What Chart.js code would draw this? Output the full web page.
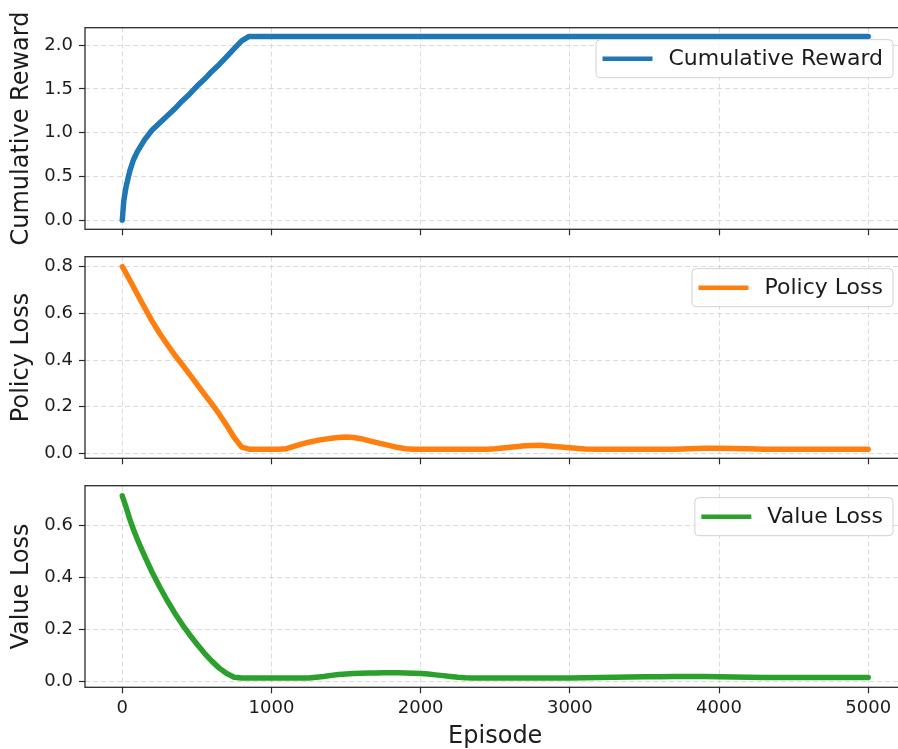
<!DOCTYPE html>
<html>
<head>
<meta charset="utf-8">
<script src="https://cdn.jsdelivr.net/npm/chart.js@4.4.1/dist/chart.umd.min.js"></script>
<style>
  html, body { margin: 0; padding: 0; background: #fff; overflow: hidden; width: 898px; height: 749px; }
  .panel { position: absolute; left: 0; top: 0; width: 910px; height: 749px; }
</style>
</head>
<body>
<canvas id="rewardPanel" class="panel" width="910" height="749"></canvas>
<canvas id="policyPanel" class="panel" width="910" height="749"></canvas>
<canvas id="valuePanel" class="panel" width="910" height="749"></canvas>
<script>
// Training curves sampled along the episode axis
const episodes = [
  0, 10, 25, 50, 75, 100, 150, 200, 250, 300, 350, 400, 450, 500, 550, 600, 650, 700, 750, 800,
  850, 900, 950, 1000, 1050, 1100, 1150, 1200, 1250, 1300, 1350, 1400, 1450, 1500, 1550, 1600, 1650, 1700, 1750, 1800,
  1850, 1900, 1950, 2000, 2050, 2100, 2150, 2200, 2250, 2300, 2350, 2400, 2450, 2500, 2600, 2700, 2800, 2900, 3000, 3100,
  3200, 3300, 3400, 3500, 3600, 3700, 3800, 3900, 4000, 4100, 4200, 4300, 4400, 4500, 4600, 4700, 4800, 4900, 5000
];

const cumulativeReward = [
  0.00, 0.22, 0.38, 0.56, 0.69, 0.78, 0.92, 1.03, 1.11, 1.19, 1.27, 1.36, 1.44, 1.53, 1.61, 1.70, 1.78, 1.87, 1.96, 2.05,
  2.10, 2.10, 2.10, 2.10, 2.10, 2.10, 2.10, 2.10, 2.10, 2.10, 2.10, 2.10, 2.10, 2.10, 2.10, 2.10, 2.10, 2.10, 2.10, 2.10,
  2.10, 2.10, 2.10, 2.10, 2.10, 2.10, 2.10, 2.10, 2.10, 2.10, 2.10, 2.10, 2.10, 2.10, 2.10, 2.10, 2.10, 2.10, 2.10, 2.10,
  2.10, 2.10, 2.10, 2.10, 2.10, 2.10, 2.10, 2.10, 2.10, 2.10, 2.10, 2.10, 2.10, 2.10, 2.10, 2.10, 2.10, 2.10, 2.10
];

const policyLoss = [
  0.800, 0.790, 0.772, 0.743, 0.713, 0.683, 0.624, 0.567, 0.515, 0.468, 0.423, 0.382, 0.340, 0.297, 0.254, 0.212, 0.168, 0.120, 0.068, 0.027,
  0.018, 0.018, 0.018, 0.018, 0.018, 0.020, 0.030, 0.040, 0.048, 0.055, 0.060, 0.065, 0.068, 0.070, 0.068, 0.063, 0.055, 0.047, 0.040, 0.032,
  0.025, 0.020, 0.018, 0.018, 0.018, 0.018, 0.018, 0.018, 0.018, 0.018, 0.018, 0.018, 0.018, 0.020, 0.026, 0.033, 0.035, 0.030, 0.024, 0.019,
  0.018, 0.018, 0.018, 0.018, 0.018, 0.018, 0.020, 0.022, 0.022, 0.021, 0.020, 0.018, 0.018, 0.018, 0.018, 0.018, 0.018, 0.018, 0.018
];

const valueLoss = [
  0.715, 0.697, 0.672, 0.625, 0.585, 0.548, 0.482, 0.420, 0.364, 0.312, 0.264, 0.220, 0.180, 0.143, 0.108, 0.077, 0.050, 0.029, 0.015, 0.012,
  0.012, 0.012, 0.012, 0.012, 0.012, 0.012, 0.012, 0.012, 0.012, 0.015, 0.018, 0.022, 0.025, 0.027, 0.029, 0.030, 0.031, 0.031, 0.032, 0.032,
  0.032, 0.031, 0.030, 0.029, 0.027, 0.024, 0.021, 0.018, 0.015, 0.013, 0.012, 0.012, 0.012, 0.012, 0.012, 0.012, 0.012, 0.012, 0.012, 0.013,
  0.014, 0.015, 0.016, 0.017, 0.017, 0.018, 0.018, 0.018, 0.017, 0.016, 0.015, 0.014, 0.014, 0.014, 0.014, 0.014, 0.014, 0.014, 0.014
];

// Tick positions
const episodeTicks = [0, 1000, 2000, 3000, 4000, 5000];
const rewardTicks = [0, 0.5, 1.0, 1.5, 2.0];
const policyTicks = [0, 0.2, 0.4, 0.6, 0.8];
const valueTicks = [0, 0.2, 0.4, 0.6];

// Page geometry (all three panels share one canvas size and x range)
const W = 910, H = 749;
const PLOT_LEFT = 85, PLOT_RIGHT = 905.5;
const FONT = '"DejaVu Sans", "Liberation Sans", sans-serif';
const TEXT = '#1c1c1c';
const GRID = 'rgba(190,190,190,0.55)';

// Axes frame drawn on all four sides, above the curve
const framePlugin = {
  id: 'frame',
  afterDatasetsDraw(chart) {
    const { ctx, chartArea: a } = chart;
    ctx.save();
    ctx.strokeStyle = '#2a2a2a';
    ctx.lineWidth = 1.3;
    ctx.strokeRect(a.left, a.top, a.right - a.left, a.bottom - a.top);
    ctx.restore();
  }
};

// Framed legend in the upper-right corner of each panel
const legendPlugin = {
  id: 'cornerLegend',
  afterDraw(chart) {
    const { ctx, chartArea: a } = chart;
    const ds = chart.data.datasets[0];
    ctx.save();
    ctx.font = '22px ' + FONT;
    const tw = ctx.measureText(ds.label).width;
    const padL = 6.5, lineLen = 50, gap = 16, padR = 10, h = 38;
    const w = padL + lineLen + gap + tw + padR;
    const x = a.right - 12.5 - w;
    const y = a.top + 12;
    ctx.beginPath();
    if (ctx.roundRect) ctx.roundRect(x, y, w, h, 4); else ctx.rect(x, y, w, h);
    ctx.fillStyle = 'rgba(255,255,255,0.85)';
    ctx.fill();
    ctx.strokeStyle = '#d2d2d2';
    ctx.lineWidth = 1;
    ctx.stroke();
    ctx.strokeStyle = ds.borderColor;
    ctx.lineWidth = 4.5;
    ctx.beginPath();
    ctx.moveTo(x + padL, y + h / 2);
    ctx.lineTo(x + padL + lineLen, y + h / 2);
    ctx.stroke();
    ctx.fillStyle = TEXT;
    ctx.textBaseline = 'middle';
    ctx.textAlign = 'left';
    ctx.fillText(ds.label, x + padL + lineLen + gap, y + h / 2 + 1);
    ctx.restore();
  }
};

function makePanel(id, cfg) {
  const xAxisH = cfg.showX ? H - cfg.bottom : 8;
  const gridOpts = { color: GRID, lineWidth: 1, drawTicks: true, tickLength: 6, tickColor: '#2a2a2a', tickWidth: 1.2 };
  return new Chart(document.getElementById(id), {
    type: 'line',
    data: {
      datasets: [{
        label: cfg.label,
        data: episodes.map((e, i) => ({ x: e, y: cfg.values[i] })),
        borderColor: cfg.color,
        backgroundColor: cfg.color,
        borderWidth: 5.5,
        pointRadius: 0,
        tension: 0,
        borderJoinStyle: 'round',
        borderCapStyle: 'round',
        fill: false
      }]
    },
    options: {
      responsive: false,
      animation: false,
      devicePixelRatio: 1,
      layout: {
        padding: { left: 0, right: W - PLOT_RIGHT, top: cfg.top, bottom: H - cfg.bottom - xAxisH }
      },
      plugins: { legend: { display: false }, tooltip: { enabled: false } },
      scales: {
        x: {
          type: 'linear',
          min: -250,
          max: 5250,
          afterFit: s => { s.height = xAxisH; },
          afterBuildTicks: s => { s.ticks = episodeTicks.map(v => ({ value: v })); },
          grid: gridOpts,
          border: { display: false, dash: [5, 3] },
          ticks: {
            display: cfg.showX,
            font: { family: FONT, size: 18 },
            color: TEXT,
            padding: 4,
            maxRotation: 0,
            callback: v => String(v)
          },
          title: {
            display: cfg.showX,
            text: 'Episode',
            color: TEXT,
            font: { family: FONT, size: 24, lineHeight: 1 },
            padding: { top: 0, bottom: 0 }
          }
        },
        y: {
          min: cfg.yMin,
          max: cfg.yMax,
          afterFit: s => { s.width = PLOT_LEFT; },
          afterBuildTicks: s => { s.ticks = cfg.ticks.map(v => ({ value: v })); },
          grid: gridOpts,
          border: { display: false, dash: [5, 3] },
          ticks: {
            font: { family: FONT, size: 18 },
            color: TEXT,
            padding: 6,
            callback: v => v.toFixed(1)
          },
          title: {
            display: true,
            text: cfg.yLabel,
            color: TEXT,
            font: { family: FONT, size: 24, lineHeight: 1 },
            padding: { top: 10, bottom: 0 }
          }
        }
      }
    },
    plugins: [framePlugin, legendPlugin]
  });
}

makePanel('rewardPanel', {
  label: 'Cumulative Reward', yLabel: 'Cumulative Reward', values: cumulativeReward, color: '#1f77b4',
  ticks: rewardTicks, yMin: -0.105, yMax: 2.2, top: 27.7, bottom: 229.3, showX: false
});
makePanel('policyPanel', {
  label: 'Policy Loss', yLabel: 'Policy Loss', values: policyLoss, color: '#ff7f0e',
  ticks: policyTicks, yMin: -0.021, yMax: 0.843, top: 256.7, bottom: 458.3, showX: false
});
makePanel('valuePanel', {
  label: 'Value Loss', yLabel: 'Value Loss', values: valueLoss, color: '#2ca02c',
  ticks: valueTicks, yMin: -0.024, yMax: 0.754, top: 485.7, bottom: 687.3, showX: true
});
</script>
</body>
</html>
